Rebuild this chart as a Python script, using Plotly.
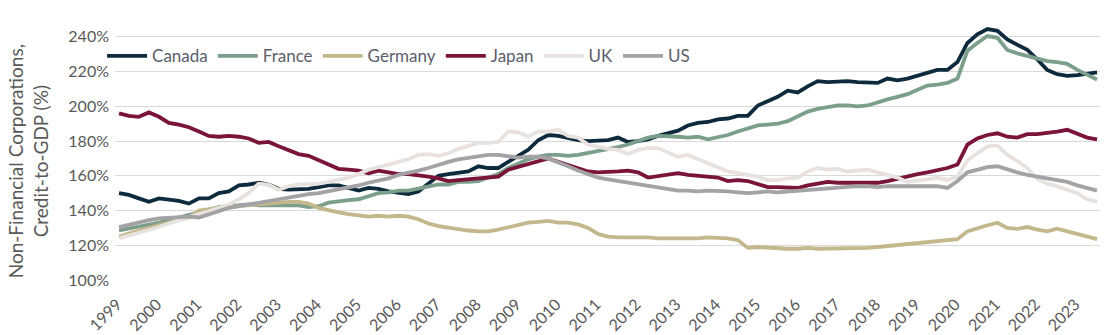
import pandas as pd
import plotly.graph_objects as go

# Quarterly non-financial corporate credit-to-GDP ratios (%), 1999 Q1 - 2023 Q3
canada = [150, 149, 147, 145, 147, 146.5, 145.5, 144, 147, 147, 150, 151, 154.5, 155, 156, 155,
          152.5, 152, 152, 152.5, 153.5, 154.5, 154.5, 153, 151.5, 153, 152.5, 151, 150, 149.5, 151, 155.5, 160,
          161, 161.5, 162.5, 165.5, 164.5, 164.5, 168, 171, 175, 180.5, 183.5, 183, 181.5, 180.5, 180, 180.5, 180.5,
          182, 179.5, 180, 181, 183, 184.5, 186, 189, 190.5, 191, 192.5, 193, 194.5, 194.5, 200.5, 203,
          205.5, 209, 208, 211.5, 214.5, 214, 214.5, 214.5, 214, 213.5, 213.5, 216, 215, 216, 217.5, 219.5, 221,
          221, 225.5, 236.5, 241.5, 244.5, 243.5, 238.5, 235.5, 232.5, 227, 221, 218.5, 217.5, 218, 219, 219.5]

france = [128.5, 129.5, 130.5, 131.5, 133, 134.5, 136, 137.5, 139, 140.5, 142, 142.5, 143, 143.5, 143, 143,
          143.5, 143.5, 143, 142, 142.5, 144.5, 145.5, 146, 146.5, 148.5, 150, 150.5, 151.5, 151.5, 152.5, 153.5, 155,
          155, 156.5, 156.5, 157, 159, 161, 164.5, 167, 169.5, 171, 172, 172, 171.5, 172, 173, 174, 175,
          176.5, 178, 180, 182, 183, 183, 182.5, 182, 182.5, 181, 182, 183.5, 185.5, 187, 189, 189.5,
          190, 191.5, 194, 197, 198.5, 199.5, 200.5, 200.5, 200, 200.5, 202.5, 204, 205.5, 207, 209.5, 212, 212.5,
          213.5, 216, 232, 236.5, 240.5, 239.5, 232.5, 230.5, 229, 227, 226, 225.5, 224.5, 221, 218, 215.5]

germany = [125, 127, 128.5, 130, 131.5, 133, 134.5, 136, 140, 141, 141.5, 142, 142.5, 143, 143.5, 144.5, 145,
           145, 145, 144, 141.5, 140, 139, 138, 137, 136.5, 137, 136.5, 137, 136.5, 135, 132.5, 131,
           130, 129.5, 128.5, 128, 128, 129, 130.5, 132, 133, 133.5, 134, 133, 133, 132, 130, 126.5, 125,
           124.5, 124.5, 125, 124.5, 124, 124, 124, 123.5, 124, 124.5, 124.5, 124, 123, 118.5, 119, 118.5,
           118.5, 118, 118, 118.5, 118, 118, 118.5, 118.5, 118, 118.5, 119, 119.5, 120.5, 121, 121.5, 122, 122.5,
           122.5, 123.5, 128, 130, 131.5, 133, 130, 129.5, 130.5, 129, 128, 129.5, 128, 126.5, 125, 123.5]

japan = [196, 194.5, 194, 196.5, 194, 190.5, 189.5, 188, 185.5, 183, 182.5, 183, 182.5, 181.5, 179, 179.5, 177,
         175, 172.5, 171.5, 169, 166, 164, 163.5, 163, 161.5, 163, 162, 161, 161, 160.5, 159.5, 158.5,
         157, 157.5, 158, 158, 158.5, 159.5, 163.5, 165, 167, 168.5, 170, 168, 166, 164, 162.5, 162, 162,
         162.5, 163, 162, 159, 160, 161, 161.5, 160.5, 160, 160, 159, 157, 157.5, 157, 155, 153.5,
         153.5, 153.5, 153, 154.5, 155.5, 156.5, 156, 156, 156.5, 156, 156, 157, 158.5, 160, 161, 162, 163,
         164.5, 166.5, 178, 181.5, 183.5, 184.5, 182.5, 182, 184, 184, 184.5, 185.5, 186.5, 184, 182, 181]

uk = [124, 125.5, 127, 129, 130.5, 132.5, 134.5, 136, 138, 139.5, 141.5, 143.5, 146.5, 150, 155.5, 155, 152,
      154, 155, 155, 155.5, 156.5, 157.5, 159, 161, 163.5, 165, 166.5, 167.5, 169.5, 172, 172.5, 171.5,
      173, 175.5, 177, 179, 179, 179.5, 185.5, 185, 182.5, 185.5, 185.5, 186.5, 183, 182, 178, 176.5, 175.5,
      175, 172.5, 175, 176, 176, 173.5, 171, 172, 169.5, 167, 164.5, 162.5, 161.5, 160.5, 159.5, 157.5,
      157.5, 158.5, 159, 162.5, 164.5, 163.5, 164, 162.5, 163, 163.5, 162, 160.5, 159, 156.5, 157, 158, 159,
      157.5, 159.5, 169, 173, 177, 177.5, 172, 168.5, 164.5, 158, 155.5, 154, 152, 150, 146.5, 145]

us = [130.5, 132, 133.5, 134.5, 135.5, 136, 136.5, 136.5, 136, 138, 140, 141.5, 142.5, 143.5, 144.5, 145.5, 146.5,
      148, 149, 149.5, 150, 151, 152, 153, 154.5, 156, 157, 158.5, 160.5, 161.5, 163, 164.5, 166.5,
      168, 169.5, 170.5, 171.5, 172, 172, 171, 170.5, 171, 171, 170, 168, 165.5, 163, 161, 159, 158,
      157, 156.5, 155, 154, 153, 152.5, 151.5, 151.5, 151, 151.5, 151.5, 151, 150.5, 150, 150.5, 151,
      150.5, 151, 151.5, 152, 152.5, 153, 153, 153.5, 154, 154, 153.5, 154, 154, 153.5, 153.5, 153.5, 154,
      153, 157, 162, 163.5, 165, 165.5, 163.5, 162, 160.5, 159.5, 158.5, 157.5, 156.5, 154.5, 153, 151.5]

quarters = pd.date_range("1999-01-01", periods=len(canada), freq="QS")

series_names = ["Canada", "France", "Germany", "Japan", "UK", "US"]
series_values = [canada, france, germany, japan, uk, us]
series_colors = ["#0e2a3d", "#7b9f8b", "#c3b88b", "#7a1439", "#e7e2de", "#a3a3a5"]

y_ticks = [100, 120, 140, 160, 180, 200, 220, 240]
y_tick_labels = [f"{v}%" for v in y_ticks]

text_color = "#595959"
font_family = "Lato, 'Noto Sans', sans-serif"

fig = go.Figure()
for name, vals, col in zip(series_names, series_values, series_colors):
    fig.add_trace(go.Scatter(
        x=quarters, y=vals, name=name, mode="lines",
        line=dict(color=col, width=3.8),
    ))

fig.update_layout(
    width=1107, height=335,
    margin=dict(l=115, r=7, t=23, b=55, autoexpand=False),
    paper_bgcolor="white", plot_bgcolor="white",
    font=dict(family=font_family, color=text_color, size=16),
    showlegend=True,
    legend=dict(
        orientation="h", xref="container", yref="container",
        x=0.0922, xanchor="left", y=0.832, yanchor="middle",
        bgcolor="rgba(0,0,0,0)", font=dict(size=17, color="#5b5e6a"),
        itemwidth=40, traceorder="normal",
    ),
    xaxis=dict(
        type="date",
        range=["1998-11-25", "2023-07-28"],
        dtick="M12", tick0="1999-01-01", tickformat="%Y",
        tickangle=-45, showgrid=False, zeroline=False, showline=False,
        ticks="", ticklabelshift=-2, ticklabelstandoff=11,
        tickfont=dict(size=16, color=text_color),
    ),
    yaxis=dict(
        range=[100, 248], tickvals=y_ticks, ticktext=y_tick_labels,
        showgrid=True, gridcolor="#d9d9d9", gridwidth=1,
        zeroline=False, showline=False, ticks="", ticklabelstandoff=5,
        tickfont=dict(size=16, color=text_color),
    ),
    annotations=[dict(
        text="Non-Financial Corporations,<br>Credit-to-GDP (%)",
        xref="paper", yref="paper", x=-0.088, y=0.463,
        xanchor="center", yanchor="middle", textangle=-90,
        showarrow=False, font=dict(size=19, color=text_color),
    )],
)

fig.write_html("out.html")
